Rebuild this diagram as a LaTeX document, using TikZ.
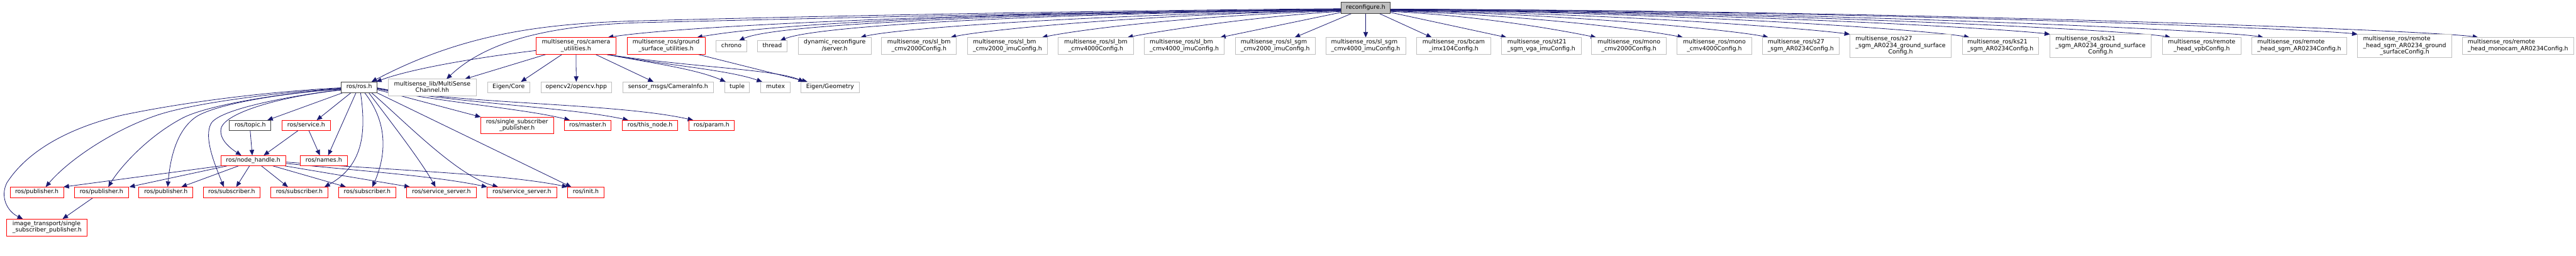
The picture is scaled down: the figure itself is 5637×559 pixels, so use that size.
\documentclass[tikz,border=0pt]{standalone}
\usepackage{fontspec}
\setmainfont{DejaVu Sans}
\usetikzlibrary{arrows.meta,calc}
\definecolor{edgec}{HTML}{191970}
\definecolor{rootfill}{HTML}{BFBFBF}
\definecolor{darkb}{HTML}{404040}
\definecolor{redb}{HTML}{FF0000}
\definecolor{grayb}{HTML}{BFBFBF}
\newcommand{\twol}[2]{\begin{tabular}{@{}l@{}}#1\\\multicolumn{1}{@{}c@{}}{#2}\end{tabular}}
\newcommand{\threel}[3]{\begin{tabular}{@{}l@{}}#1\\#2\\\multicolumn{1}{@{}c@{}}{#3}\end{tabular}}
\pgfdeclarelayer{edges}
\pgfsetlayers{edges,main}
\tikzset{
  box/.style={rectangle, inner sep=0pt, outer sep=0pt, line width=1.2pt, fill=white, align=center, font=\fontsize{12.9}{14}\selectfont},
  rootbox/.style={box, draw=darkb, fill=rootfill},
  docbox/.style={box, draw=darkb},
  redbox/.style={box, draw=redb},
  graybox/.style={box, draw=grayb},
  dep/.style={draw=edgec, line width=1.1pt, -{Triangle[length=12pt,width=10pt]}},
}
\begin{document}
\begin{tikzpicture}[x=1pt,y=-1pt]
\useasboundingbox (0,0) rectangle (5637,559);
% ---- top
\node[rootbox, minimum width=107pt, minimum height=24pt] (rc) at (2988.5,17) {\strut reconfigure.h};
% ---- row 2
\node[redbox, minimum width=175pt, minimum height=37pt] (cu) at (1260.5,100.5) {\twol{multisense\_ros/camera}{\_utilities.h}};
\node[redbox, minimum width=171pt, minimum height=37pt] (gs) at (1457.5,100.5) {\twol{multisense\_ros/ground}{\_surface\_utilities.h}};
\node[graybox, minimum width=67pt, minimum height=24pt] (chrono) at (1600.5,101) {\strut chrono};
\node[graybox, minimum width=64pt, minimum height=24pt] (thread) at (1690,101) {\strut thread};
\node[graybox, minimum width=159pt, minimum height=37pt] (dyn) at (1826.5,100.5) {\twol{dynamic\_reconfigure}{/server.h}};
\node[graybox, minimum width=164pt, minimum height=37pt] (c1) at (2011,100.5) {\twol{multisense\_ros/sl\_bm}{\_cmv2000Config.h}};
\node[graybox, minimum width=175pt, minimum height=37pt] (c2) at (2204.5,100.5) {\twol{multisense\_ros/sl\_bm}{\_cmv2000\_imuConfig.h}};
\node[graybox, minimum width=164pt, minimum height=37pt] (c3) at (2398,100.5) {\twol{multisense\_ros/sl\_bm}{\_cmv4000Config.h}};
\node[graybox, minimum width=175pt, minimum height=37pt] (c4) at (2591.5,100.5) {\twol{multisense\_ros/sl\_bm}{\_cmv4000\_imuConfig.h}};
\node[graybox, minimum width=175pt, minimum height=37pt] (c5) at (2790.5,100.5) {\twol{multisense\_ros/sl\_sgm}{\_cmv2000\_imuConfig.h}};
\node[graybox, minimum width=175pt, minimum height=37pt] (c6) at (2988.5,100.5) {\twol{multisense\_ros/sl\_sgm}{\_cmv4000\_imuConfig.h}};
\node[graybox, minimum width=162pt, minimum height=37pt] (c7) at (3181,100.5) {\twol{multisense\_ros/bcam}{\_imx104Config.h}};
\node[graybox, minimum width=174pt, minimum height=37pt] (c8) at (3373,100.5) {\twol{multisense\_ros/st21}{\_sgm\_vga\_imuConfig.h}};
\node[graybox, minimum width=163pt, minimum height=37pt] (c9) at (3564.5,100.5) {\twol{multisense\_ros/mono}{\_cmv2000Config.h}};
\node[graybox, minimum width=163pt, minimum height=37pt] (c10) at (3751.5,100.5) {\twol{multisense\_ros/mono}{\_cmv4000Config.h}};
\node[graybox, minimum width=167pt, minimum height=37pt] (c11) at (3940.5,100.5) {\twol{multisense\_ros/s27}{\_sgm\_AR0234Config.h}};
\node[graybox, minimum width=222pt, minimum height=51pt] (c12) at (4159,100.5) {\threel{multisense\_ros/s27}{\_sgm\_AR0234\_ground\_surface}{Config.h}};
\node[graybox, minimum width=167pt, minimum height=37pt] (c13) at (4377.5,100.5) {\twol{multisense\_ros/ks21}{\_sgm\_AR0234Config.h}};
\node[graybox, minimum width=221pt, minimum height=51pt] (c14) at (4596.5,100.5) {\threel{multisense\_ros/ks21}{\_sgm\_AR0234\_ground\_surface}{Config.h}};
\node[graybox, minimum width=172pt, minimum height=37pt] (c15) at (4818,100.5) {\twol{multisense\_ros/remote}{\_head\_vpbConfig.h}};
\node[graybox, minimum width=207pt, minimum height=37pt] (c16) at (5031.5,100.5) {\twol{multisense\_ros/remote}{\_head\_sgm\_AR0234Config.h}};
\node[graybox, minimum width=206pt, minimum height=51pt] (c17) at (5262,100.5) {\threel{multisense\_ros/remote}{\_head\_sgm\_AR0234\_ground}{\_surfaceConfig.h}};
\node[graybox, minimum width=244pt, minimum height=37pt] (c18) at (5510,100.5) {\twol{multisense\_ros/remote}{\_head\_monocam\_AR0234Config.h}};
% ---- row 3
\node[docbox, minimum width=78pt, minimum height=24pt] (ros) at (786,191) {\strut ros/ros.h};
\node[graybox, minimum width=192pt, minimum height=37pt] (msc) at (946,191.5) {\twol{multisense\_lib/MultiSense}{Channel.hh}};
\node[graybox, minimum width=92pt, minimum height=24pt] (ecore) at (1113,191) {\strut Eigen/Core};
\node[graybox, minimum width=154pt, minimum height=24pt] (ocv) at (1261,191) {\strut opencv2/opencv.hpp};
\node[graybox, minimum width=198pt, minimum height=24pt] (cam) at (1462,191) {\strut sensor\_msgs/CameraInfo.h};
\node[graybox, minimum width=54pt, minimum height=24pt] (tuple) at (1613,191) {\strut tuple};
\node[graybox, minimum width=64pt, minimum height=24pt] (mutex) at (1697,191) {\strut mutex};
\node[graybox, minimum width=127pt, minimum height=24pt] (egeo) at (1816.5,191) {\strut Eigen/Geometry};
% ---- row 4
\node[docbox, minimum width=91pt, minimum height=23pt] (topic) at (547.5,274.5) {\strut ros/topic.h};
\node[redbox, minimum width=106pt, minimum height=23pt] (service) at (670,274.5) {\strut ros/service.h};
\node[redbox, minimum width=159pt, minimum height=37pt] (ssp) at (1131.5,274.5) {\twol{ros/single\_subscriber}{\_publisher.h}};
\node[redbox, minimum width=102pt, minimum height=23pt] (master) at (1286,274.5) {\strut ros/master.h};
\node[redbox, minimum width=121pt, minimum height=23pt] (thisnode) at (1422.5,274.5) {\strut ros/this\_node.h};
\node[redbox, minimum width=100pt, minimum height=23pt] (param) at (1557,274.5) {\strut ros/param.h};
% ---- row 5
\node[redbox, minimum width=142pt, minimum height=23pt] (nh) at (554,351.5) {\strut ros/node\_handle.h};
\node[redbox, minimum width=103pt, minimum height=23pt] (names) at (708.5,351.5) {\strut ros/names.h};
% ---- row 6
\node[redbox, minimum width=117pt, minimum height=24pt] (p1) at (80.5,421) {\strut ros/publisher.h};
\node[redbox, minimum width=118pt, minimum height=24pt] (p2) at (222,421) {\strut ros/publisher.h};
\node[redbox, minimum width=118pt, minimum height=24pt] (p3) at (363,421) {\strut ros/publisher.h};
\node[redbox, minimum width=124pt, minimum height=24pt] (s1) at (507,421) {\strut ros/subscriber.h};
\node[redbox, minimum width=124pt, minimum height=24pt] (s2) at (655,421) {\strut ros/subscriber.h};
\node[redbox, minimum width=125pt, minimum height=24pt] (s3) at (803.5,421) {\strut ros/subscriber.h};
\node[redbox, minimum width=152pt, minimum height=24pt] (ss1) at (966,421) {\strut ros/service\_server.h};
\node[redbox, minimum width=152pt, minimum height=24pt] (ss2) at (1142,421) {\strut ros/service\_server.h};
\node[redbox, minimum width=80pt, minimum height=24pt] (init) at (1282,421) {\strut ros/init.h};
% ---- row 7
\node[redbox, minimum width=176pt, minimum height=38pt] (it) at (103,498) {\twol{image\_transport/single}{\_subscriber\_publisher.h}};

\begin{pgfonlayer}{edges}
% reconfigure.h -> left
\draw[dep] ($(rc.west)+(0,2)$) .. controls (2400,23) and (1800,35) .. (1420,45) .. controls (1200,50) and (1020,70) .. ($(ros.north west)+(66,0)$);
\draw[dep] ($(rc.west)+(0,3)$) .. controls (2400,25) and (1800,40) .. (1420,49) .. controls (1250,53) and (1080,75) .. ($(msc.north west)+(127,0)$);
\draw[dep] ($(rc.west)+(0,4)$) .. controls (2200,25) and (1500,55) .. ($(cu.north east)+(-18,0)$);
\draw[dep] ($(rc.west)+(0,4)$) .. controls (2200,27) and (1700,50) .. ($(gs.north east)+(-18,0)$);
\draw[dep] ($(rc.west)+(0,5)$) .. controls (2300,28) and (1700,50) .. ($(chrono.north east)+(-17,0)$);
\draw[dep] ($(rc.west)+(0,5)$) .. controls (2300,29) and (1790,55) .. ($(thread.north east)+(-15,0)$);
\draw[dep] ($(rc.west)+(0,6)$) .. controls (2400,31) and (1960,62) .. ($(dyn.north east)+(-23,0)$);
\draw[dep] ($(rc.west)+(0,6)$) .. controls (2500,31) and (2150,66) .. ($(c1.north east)+(-13,0)$);
\draw[dep] ($(rc.west)+(0,7)$) .. controls (2600,33) and (2350,67) .. ($(c2.north east)+(-12,0)$);
\draw[dep] ($(rc.west)+(0,8)$) .. controls (2750,35) and (2530,69) .. ($(c3.north east)+(-13,0)$);
\draw[dep] ($(rc.west)+(0,10)$) -- ($(c4.north east)+(-9,0)$);
\draw[dep] ($(rc.south west)+(24,0)$) -- ($(c5.north east)+(-45,0)$);
\draw[dep] (rc.south) -- (c6.north);
% reconfigure.h -> right
\draw[dep] ($(rc.south east)+(-25,0)$) -- ($(c7.north west)+(33,0)$);
\draw[dep] ($(rc.east)+(0,10)$) -- ($(c8.north west)+(11,0)$);
\draw[dep] ($(rc.east)+(0,8)$) .. controls (3250,35) and (3430,69) .. ($(c9.north west)+(10,0)$);
\draw[dep] ($(rc.east)+(0,7)$) .. controls (3350,33) and (3610,67) .. ($(c10.north west)+(13,0)$);
\draw[dep] ($(rc.east)+(0,6)$) .. controls (3450,31) and (3800,67) .. ($(c11.north west)+(13,0)$);
\draw[dep] ($(rc.east)+(0,6)$) .. controls (3550,29) and (3970,64) .. (c12.north west);
\draw[dep] ($(rc.east)+(0,5)$) .. controls (3700,27) and (4230,67) .. ($(c13.north west)+(16,0)$);
\draw[dep] ($(rc.east)+(0,5)$) .. controls (3800,27) and (4400,64) .. (c14.north west);
\draw[dep] ($(rc.east)+(0,4)$) .. controls (3900,26) and (4670,67) .. ($(c15.north west)+(18,0)$);
\draw[dep] ($(rc.east)+(0,4)$) .. controls (4000,25) and (4870,67) .. ($(c16.north west)+(25,0)$);
\draw[dep] ($(rc.east)+(0,3)$) .. controls (4100,24) and (5070,64) .. (c17.north west);
\draw[dep] ($(rc.east)+(0,3)$) .. controls (4200,23) and (5330,67) .. ($(c18.north west)+(35,0)$);
% camera_utilities / ground_surface_utilities
\draw[dep] ($(cu.west)+(0,10)$) .. controls (1050,125) and (900,150) .. ($(ros.north east)+(-2,0)$);
\draw[dep] ($(cu.south west)+(22,0)$) -- ($(msc.north east)+(-25,0)$);
\draw[dep] ($(cu.south west)+(57,0)$) -- ($(ecore.north east)+(-19,0)$);
\draw[dep] (cu.south) -- (ocv.north);
\draw[dep] ($(cu.south east)+(-45,0)$) -- ($(cam.north west)+(67,0)$);
\draw[dep] ($(cu.south east)+(-21,0)$) .. controls (1420,137) and (1520,150) .. ($(tuple.north west)+(2,0)$);
\draw[dep] ($(cu.south east)+(-21,0)$) .. controls (1450,142) and (1590,152) .. ($(mutex.north west)+(3,0)$);
\draw[dep] ($(cu.south east)+(-21,0)$) .. controls (1500,146) and (1700,152) .. ($(egeo.north west)+(6,0)$);
\draw[dep] ($(gs.south east)+(-16,0)$) -- ($(egeo.north west)+(14,0)$);
% ros/ros.h
\draw[dep] ($(ros.south west)+(3,0)$) -- ($(topic.north east)+(-8,0)$);
\draw[dep] ($(ros.south west)+(21,0)$) -- ($(service.north east)+(-30,0)$);
\draw[dep] ($(ros.south west)+(32,0)$) -- ($(names.north east)+(-42,0)$);
\draw[dep] ($(ros.west)+(0,6)$) .. controls (620,210) and (495,245) .. (484,280) .. controls (478,305) and (505,325) .. ($(nh.north west)+(45,0)$);
\draw[dep] ($(ros.west)+(0,5)$) .. controls (620,212) and (480,240) .. (462,270) .. controls (445,300) and (470,360) .. ($(s1.north west)+(45,0)$);
\draw[dep] ($(ros.west)+(0,4)$) .. controls (600,205) and (470,230) .. (430,255) .. controls (385,285) and (372,350) .. ($(p3.north east)+(-55,0)$);
\draw[dep] ($(ros.west)+(0,3)$) .. controls (600,205) and (450,232) .. (400,258) .. controls (320,300) and (260,370) .. ($(p2.north east)+(-44,0)$);
\draw[dep] ($(ros.west)+(0,2)$) .. controls (600,203) and (430,225) .. (350,250) .. controls (250,282) and (150,350) .. ($(p1.north east)+(-39,0)$);
\draw[dep] ($(ros.west)+(0,1)$) .. controls (600,200) and (420,220) .. (267,252) .. controls (150,280) and (60,330) .. (15,400) .. controls (0,430) and (15,462) .. ($(it.north west)+(35,0)$);
\draw[dep] ($(ros.south)+(3,0)$) .. controls (800,280) and (800,360) .. ($(s2.north east)+(-7,0)$);
\draw[dep] ($(ros.south east)+(-27,0)$) .. controls (850,270) and (845,340) .. ($(s3.north west)+(74,0)$);
\draw[dep] ($(ros.south east)+(-18,0)$) .. controls (850,260) and (920,350) .. ($(ss1.north west)+(63,0)$);
\draw[dep] ($(ros.south east)+(-12,0)$) .. controls (880,260) and (1000,385) .. ($(ss2.north west)+(24,0)$);
\draw[dep] (ros.south east) -- ($(init.north west)+(8,0)$);
\draw[dep] ($(ros.east)+(0,5)$) -- (ssp.north west);
\draw[dep] ($(ros.east)+(0,3)$) .. controls (950,222) and (1150,238) .. ($(master.north west)+(12,0)$);
\draw[dep] ($(ros.east)+(0,2)$) .. controls (1000,226) and (1250,235) .. ($(thisnode.north west)+(13,0)$);
\draw[dep] ($(ros.east)+(0,1)$) .. controls (1000,228) and (1350,225) .. ($(param.north west)+(10,0)$);
% topic / service
\draw[dep] (topic.south) -- ($(nh.north west)+(69,0)$);
\draw[dep] ($(service.south west)+(35,0)$) -- ($(nh.north west)+(94,0)$);
\draw[dep] ($(service.south west)+(59,0)$) -- ($(names.north west)+(43,0)$);
% node_handle
\draw[dep] (nh.south west) -- (p1.north east);
\draw[dep] ($(nh.south west)+(14,0)$) -- ($(p2.north east)+(2,0)$);
\draw[dep] ($(nh.south west)+(39,0)$) -- ($(p3.north east)+(-25,0)$);
\draw[dep] ($(nh.south west)+(63,0)$) -- ($(s1.north west)+(72,0)$);
\draw[dep] ($(nh.south west)+(89,0)$) -- ($(s2.north west)+(37,0)$);
\draw[dep] ($(nh.south west)+(114,0)$) -- ($(s3.north west)+(16,0)$);
\draw[dep] ($(nh.south east)+(-2,0)$) -- ($(ss1.north west)+(7,0)$);
\draw[dep] ($(nh.east)+(0,6)$) .. controls (800,375) and (950,385) .. (ss2.north west);
\draw[dep] ($(nh.east)+(0,3)$) .. controls (850,372) and (1100,380) .. (init.north west);
% publisher
\draw[dep] ($(p2.south west)+(40,0)$) -- ($(it.north west)+(122,0)$);
\end{pgfonlayer}
\end{tikzpicture}
\end{document}
